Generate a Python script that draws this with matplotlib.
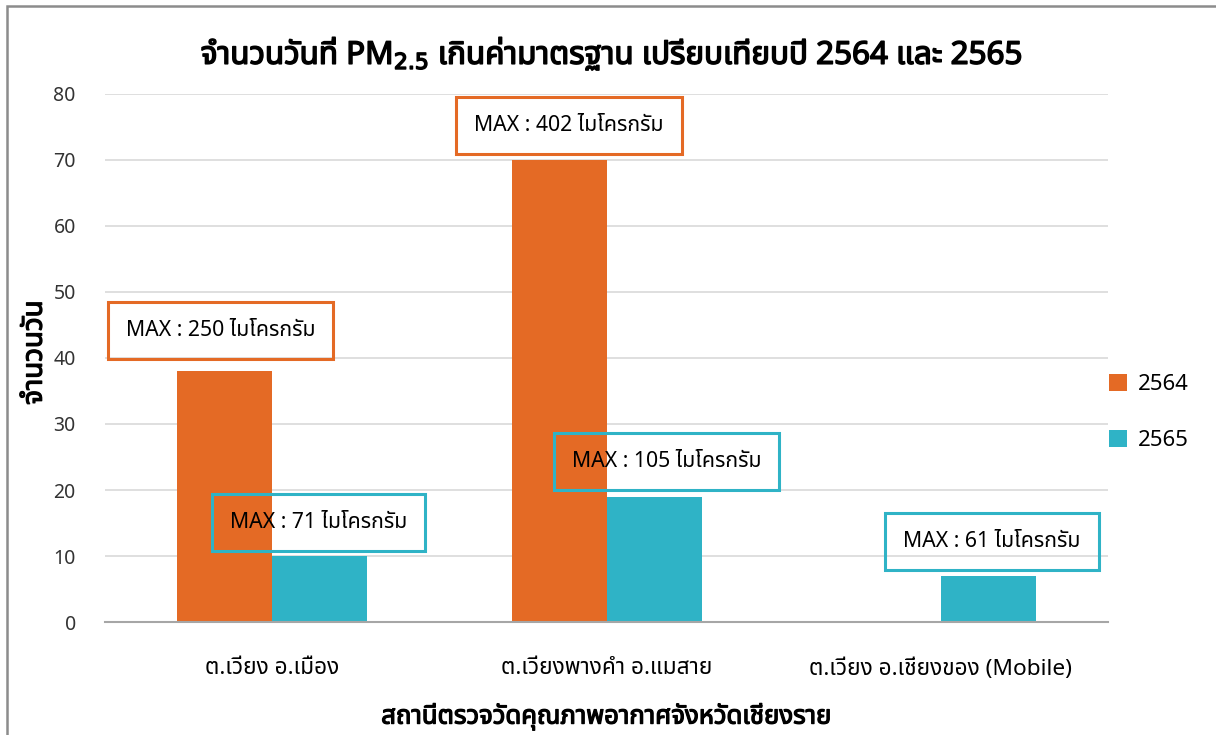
import matplotlib
matplotlib.use("Agg")
import matplotlib.pyplot as plt
import matplotlib.patheffects as pe
from matplotlib import font_manager
from matplotlib.ft2font import FT2Font
from matplotlib.patches import Rectangle
import numpy as np

# Data
stations = ["ต.เวียง อ.เมือง", "ต.เวียงพางคำ อ.แมสาย", "ต.เวียง อ.เชียงของ (Mobile)"]
years = ["2564", "2565"]
days_2564 = [38, 70, 0]
days_2565 = [10, 19, 7]
max_2564 = [250, 402, None]
max_2565 = [71, 105, 61]

# offset of each label box from its bar top (points), layout only
nudge_2564 = [(-3, 29), (7, 25), (0, 25)]
nudge_2565 = [(-1, 24), (9, 25), (2.5, 25)]

orange = "#E46A25"
teal = "#2FB3C6"


def find_thai_fonts():
    # installed fonts that have Thai glyphs -> {family: set of weights}
    found = {}
    for f in font_manager.fontManager.ttflist:
        try:
            ft = FT2Font(f.fname)
            if ft.get_char_index(ord("ก")):
                wt = f.weight if isinstance(f.weight, int) else 400
                found.setdefault(f.name, set()).add(wt)
        except Exception:
            pass
    return found


found = find_thai_fonts()
preferred = ["Leelawadee UI", "Tahoma", "Noto Sans Thai", "Noto Sans Thai UI",
             "Loma", "Garuda", "Sarabun", "Kinnari", "Waree", "Umpush"]
thai = None
for p in preferred:
    if p in found:
        thai = p
        break
if thai is None and found:
    thai = sorted(found)[0]
has_bold = thai is not None and max(found[thai]) >= 600

families = ([thai] if thai else []) + ["DejaVu Sans"]
plt.rcParams["font.family"] = families


def bold_fx(lw):
    # fake a heavier weight when the Thai font has no bold face
    if has_bold:
        return []
    return [pe.withStroke(linewidth=lw, foreground="black")]


fig = plt.figure(figsize=(12.16, 7.35), dpi=100)
ax = fig.add_axes([0.0863, 0.1537, 0.825, 0.7185])

x = np.arange(len(stations))
w = 0.284
b1 = ax.bar(x - w / 2, days_2564, w, color=orange, label=years[0], zorder=2)
b2 = ax.bar(x + w / 2, days_2565, w, color=teal, label=years[1], zorder=2)

ax.set_xlim(-0.5, 2.5)
ax.set_ylim(0, 80)
ax.set_yticks(range(0, 81, 10))
ax.set_xticks(x)
ax.set_xticklabels(stations, fontsize=16.3)
ax.tick_params(axis="y", labelsize=14, length=0, pad=21, colors="#333333")
ax.tick_params(axis="x", length=0, pad=26)
ax.grid(axis="y", color="#D9D9D9", linewidth=1.2, zorder=0)
for s in ["top", "right", "left"]:
    ax.spines[s].set_visible(False)
ax.spines["bottom"].set_color("#A6A6A6")
ax.spines["bottom"].set_linewidth(1.5)
ax.set_axisbelow(True)

# data label boxes
for bars, maxes, nudges, col in [(b1, max_2564, nudge_2564, orange),
                                 (b2, max_2565, nudge_2565, teal)]:
    for rect, m, (dx, dy) in zip(bars, maxes, nudges):
        if m is None:
            continue
        cx = rect.get_x() + rect.get_width() / 2
        top = rect.get_height()
        ax.annotate(f"MAX : {m} ไมโครกรัม", xy=(cx, top), xytext=(dx, dy),
                    textcoords="offset points", ha="center", va="center",
                    fontsize=15.3, color="black", zorder=5,
                    bbox=dict(boxstyle="square,pad=0.85", fc="none", ec=col, lw=2.2))

fig.text(0.503, 0.928, "จำนวนวันที่ PM$_{2.5}$ เกินค่ามาตรฐาน เปรียบเทียบปี 2564 และ 2565",
         ha="center", va="center", fontsize=22.6, fontweight="bold",
         path_effects=bold_fx(1.1))
ax.set_ylabel("จำนวนวัน", fontsize=20, fontweight="bold", path_effects=bold_fx(0.9))
ax.yaxis.label.set_va("center")
ax.yaxis.set_label_coords(-0.07, 0.51)
ax.set_xlabel("สถานีตรวจวัดคุณภาพอากาศจังหวัดเชียงราย", fontsize=18.5,
              fontweight="bold", path_effects=bold_fx(0.9))
ax.xaxis.label.set_va("center")
ax.xaxis.set_label_coords(0.5, -0.18)

leg = ax.legend(loc="center left", bbox_to_anchor=(0.981, 0.397), frameon=False,
                fontsize=16, handlelength=0.8, handleheight=0.8,
                labelspacing=1.56, handletextpad=0.5)

# chart border (top and left visible)
fig.add_artist(Rectangle((7 / 1216, -0.1), 1.2, 1.1 - 6 / 735, transform=fig.transFigure,
                         fill=False, ec="#8C8C8C", lw=1.8))

fig.savefig("out.png", dpi=100, facecolor="white")
